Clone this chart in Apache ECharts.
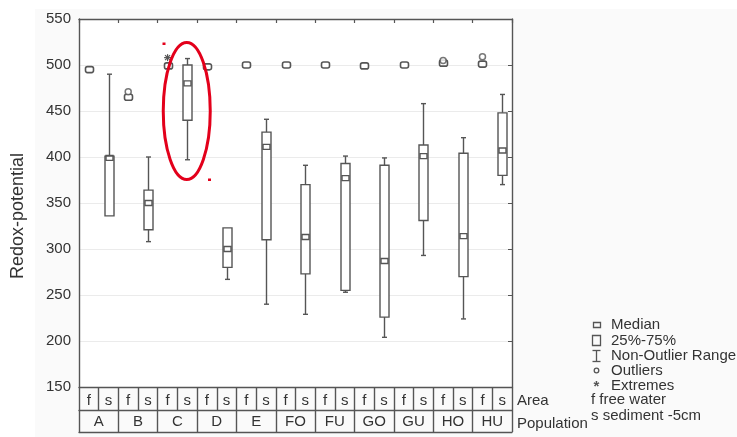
<!DOCTYPE html>
<html><head><meta charset="utf-8">
<script src="https://cdn.jsdelivr.net/npm/echarts@6/dist/echarts.min.js"></script>
<style>html,body{margin:0;padding:0;background:#fff}#c{width:737px;height:437px}</style>
</head><body><div id="c"></div>
<script>
// ---- data ----
const categories = ['A-f','A-s','B-f','B-s','C-f','C-s','D-f','D-s','E-f','E-s','FO-f','FO-s','FU-f','FU-s','GO-f','GO-s','GU-f','GU-s','HO-f','HO-s','HU-f','HU-s'];
const areaLabels = ['f','s','f','s','f','s','f','s','f','s','f','s','f','s','f','s','f','s','f','s','f','s'];
const populations = ['A','B','C','D','E','FO','FU','GO','GU','HO','HU'];
const whiskerLow  = [495, 336, 465, 308, 499, 397, 498, 267, 500, 240, 500, 229, 500, 253, 499, 204, 500, 293, 502, 224, 501, 370];
const q1          = [495, 336, 465, 321, 499, 440, 498, 280, 500, 310, 500, 273, 500, 255, 499, 226, 500, 331, 502, 270, 501, 380];
const median      = [495, 399, 465, 350, 499, 480, 498, 300, 500, 411, 500, 313, 500, 377, 499, 287, 500, 401, 502, 314, 501, 407];
const q3          = [495, 401, 465, 364, 499, 500, 498, 323, 500, 427, 500, 370, 500, 393, 499, 391, 500, 413, 502, 404, 501, 448];
const whiskerHigh = [495, 490, 465, 400, 499, 507, 498, 323, 500, 441, 500, 391, 500, 401, 499, 399, 500, 458, 502, 421, 501, 468];
const outliers = [[2, 471], [18, 505], [20, 509]];
const extremes = [[4, 508]];
const yMin = 150, yMax = 550, yStep = 50;
const legendItems = ['Median', '25%-75%', 'Non-Outlier Range', 'Outliers', 'Extremes'];
const notes = ['f free water', 's sediment -5cm'];

const LINE = '#555';
const TXT = '#333';
const boxData = categories.map((c, i) => [i, whiskerLow[i], q1[i], median[i], q3[i], whiskerHigh[i]]);

const chart = echarts.init(document.getElementById('c'));

function boxRender(params, api) {
  const x = api.value(0);
  const pL = api.coord([x, api.value(1)]);
  const p1 = api.coord([x, api.value(2)]);
  const pM = api.coord([x, api.value(3)]);
  const p3 = api.coord([x, api.value(4)]);
  const pH = api.coord([x, api.value(5)]);
  const cx = Math.round(pM[0]) + 0.5;
  const bw = 9;
  const st = { stroke: LINE, fill: 'none', lineWidth: 1.4 };
  const ch = [];
  if (p1[1] - p3[1] > 1) {
    if (p3[1] - pH[1] > 0.5) {
      ch.push({ type: 'line', shape: { x1: cx, y1: pH[1], x2: cx, y2: p3[1] }, style: st });
      ch.push({ type: 'line', shape: { x1: cx - 2.5, y1: pH[1], x2: cx + 2.5, y2: pH[1] }, style: st });
    }
    if (pL[1] - p1[1] > 0.5) {
      ch.push({ type: 'line', shape: { x1: cx, y1: p1[1], x2: cx, y2: pL[1] }, style: st });
      ch.push({ type: 'line', shape: { x1: cx - 2.5, y1: pL[1], x2: cx + 2.5, y2: pL[1] }, style: st });
    }
    ch.push({ type: 'rect', shape: { x: cx - bw / 2, y: p3[1], width: bw, height: p1[1] - p3[1] }, style: { stroke: LINE, fill: '#fff', lineWidth: 1.4 } });
    ch.push({ type: 'rect', shape: { x: cx - bw / 2 + 1, y: pM[1] - 2.5, width: bw - 2, height: 5 }, style: st });
  } else {
    ch.push({ type: 'rect', shape: { x: cx - 4, y: pM[1] - 3, width: 8, height: 6, r: 2 }, style: { stroke: LINE, fill: '#fff', lineWidth: 1.6 } });
  }
  return { type: 'group', children: ch };
}

function starRender(params, api) {
  const p = api.coord([api.value(0), api.value(1)]);
  const s = { stroke: LINE, lineWidth: 1.2 };
  const r = 3.5;
  return { type: 'group', children: [
    { type: 'line', shape: { x1: p[0] - r, y1: p[1], x2: p[0] + r, y2: p[1] }, style: s },
    { type: 'line', shape: { x1: p[0], y1: p[1] - r, x2: p[0], y2: p[1] + r }, style: s },
    { type: 'line', shape: { x1: p[0] - 2.5, y1: p[1] - 2.5, x2: p[0] + 2.5, y2: p[1] + 2.5 }, style: s },
    { type: 'line', shape: { x1: p[0] - 2.5, y1: p[1] + 2.5, x2: p[0] + 2.5, y2: p[1] - 2.5 }, style: s }
  ]};
}

const font = 'Liberation Sans, Arial, sans-serif';
chart.setOption({
  backgroundColor: '#fafafa',
  animation: false,
  grid: [
    { left: 79, right: 225, top: 19, bottom: 50, show: true, backgroundColor: '#fff', borderWidth: 0 },
    { left: 79, right: 225, top: 410, height: 22, show: false }
  ],
  xAxis: [
    { type: 'category', gridIndex: 0, data: categories, position: 'bottom',
      axisLine: { onZero: false, lineStyle: { color: LINE, width: 1.4 } },
      axisTick: { show: true, length: 23, lineStyle: { color: LINE, width: 1.4 } },
      axisLabel: { formatter: (v, i) => areaLabels[i], color: TXT, fontSize: 15, fontFamily: font, margin: 6, interval: 0 },
      splitLine: { show: false } },
    { type: 'category', gridIndex: 0, data: categories, position: 'top',
      axisLine: { onZero: false, lineStyle: { color: LINE, width: 1.4 } },
      axisTick: { show: true, inside: true, length: 4, lineStyle: { color: LINE, width: 1.2 } },
      axisLabel: { show: false }, splitLine: { show: false } },
    { type: 'category', gridIndex: 1, data: populations, position: 'top',
      axisLine: { onZero: false, lineStyle: { color: LINE, width: 1.4 } },
      axisTick: { show: true, inside: true, length: 22, lineStyle: { color: LINE, width: 1.4 } },
      axisLabel: { inside: true, color: TXT, fontSize: 15, fontFamily: font, margin: 4, interval: 0 } },
    { type: 'category', gridIndex: 1, data: populations, position: 'bottom',
      axisLine: { onZero: false, lineStyle: { color: LINE, width: 1.4 } },
      axisTick: { show: false }, axisLabel: { show: false } }
  ],
  yAxis: [
    { type: 'value', gridIndex: 0, min: yMin, max: yMax, interval: yStep, position: 'left',
      axisLine: { show: true, lineStyle: { color: LINE, width: 1.4 } },
      axisTick: { show: false },
      axisLabel: { color: TXT, fontSize: 15, fontFamily: font, margin: 8 },
      splitLine: { show: true, lineStyle: { color: '#ebebeb', width: 1 } } },
    { type: 'value', gridIndex: 0, min: yMin, max: yMax, interval: yStep, position: 'right',
      axisLine: { show: true, lineStyle: { color: LINE, width: 1.4 } },
      axisTick: { show: true, inside: true, length: 4, lineStyle: { color: LINE } },
      axisLabel: { show: false }, splitLine: { show: false } },
    { type: 'value', gridIndex: 1, min: 0, max: 1, show: false }
  ],
  series: [
    { type: 'custom', xAxisIndex: 0, yAxisIndex: 0, data: boxData, renderItem: boxRender, encode: { x: 0, y: [1, 2, 3, 4, 5] }, z: 5 },
    { type: 'scatter', xAxisIndex: 0, yAxisIndex: 0, data: outliers, symbol: 'circle', symbolSize: 6,
      itemStyle: { color: '#fff', borderColor: LINE, borderWidth: 1.5 }, z: 6 },
    { type: 'custom', xAxisIndex: 0, yAxisIndex: 0, data: extremes, renderItem: starRender, encode: { x: 0, y: 1 }, z: 6 }
  ]
});

const ctr = chart.convertToPixel({ xAxisIndex: 0, yAxisIndex: 0 }, [5, 450]);
const g = [
  { type: 'rect', left: 0, top: 0, shape: { width: 737, height: 9 }, style: { fill: '#fff' }, z: -100, silent: true },
  { type: 'rect', left: 0, top: 0, shape: { width: 35, height: 437 }, style: { fill: '#fff' }, z: -100, silent: true },
  { type: 'text', x: 18, y: 216, rotation: Math.PI / 2, style: { text: 'Redox-potential', fill: TXT, font: '18px ' + font, align: 'center', verticalAlign: 'middle' } },
  { type: 'text', x: 517, y: 401, style: { text: 'Area', fill: TXT, font: '15px ' + font, verticalAlign: 'middle' } },
  { type: 'text', x: 517, y: 424, style: { text: 'Population', fill: TXT, font: '15px ' + font, verticalAlign: 'middle' } },
  { type: 'ellipse', shape: { cx: ctr[0] - 0.5, cy: ctr[1], rx: 23.5, ry: 68.5 }, style: { stroke: '#e3001b', fill: 'none', lineWidth: 3 }, z: 20 },
  { type: 'rect', shape: { x: 162.5, y: 42.5, width: 3, height: 2.5 }, style: { fill: '#e3001b' }, z: 20 },
  { type: 'rect', shape: { x: 208, y: 178.5, width: 3, height: 2.5 }, style: { fill: '#e3001b' }, z: 20 },
  // legend icons
  { type: 'rect', shape: { x: 593.5, y: 322.5, width: 7, height: 5 }, style: { stroke: LINE, fill: 'none', lineWidth: 1.3 } },
  { type: 'rect', shape: { x: 592.5, y: 335.5, width: 8, height: 10 }, style: { stroke: LINE, fill: 'none', lineWidth: 1.3 } },
  { type: 'line', shape: { x1: 596.5, y1: 350, x2: 596.5, y2: 362 }, style: { stroke: LINE, lineWidth: 1.3 } },
  { type: 'line', shape: { x1: 592.5, y1: 350.5, x2: 600.5, y2: 350.5 }, style: { stroke: LINE, lineWidth: 1.3 } },
  { type: 'line', shape: { x1: 592.5, y1: 361.5, x2: 600.5, y2: 361.5 }, style: { stroke: LINE, lineWidth: 1.3 } },
  { type: 'circle', shape: { cx: 596.5, cy: 370.5, r: 2.3 }, style: { stroke: LINE, fill: 'none', lineWidth: 1.3 } },
  { type: 'text', x: 596.5, y: 387, style: { text: '*', fill: LINE, font: 'bold 15px ' + font, align: 'center', verticalAlign: 'middle' } }
];
const legendY = [325, 341, 356, 371, 386];
legendItems.forEach((t, i) => g.push({ type: 'text', x: 611, y: legendY[i], style: { text: t, fill: TXT, font: '15px ' + font, verticalAlign: 'middle' } }));
const noteY = [400, 416];
notes.forEach((t, i) => g.push({ type: 'text', x: 591, y: noteY[i], style: { text: t, fill: TXT, font: '15px ' + font, verticalAlign: 'middle' } }));
chart.setOption({ graphic: g });
</script></body></html>
